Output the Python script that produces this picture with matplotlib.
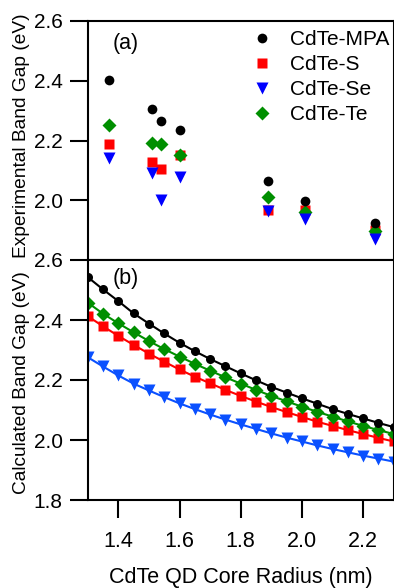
import matplotlib
matplotlib.use('Agg')
import matplotlib.pyplot as plt
from matplotlib.lines import Line2D
from matplotlib import rcParams

rcParams['font.family'] = ['Liberation Sans', 'DejaVu Sans']

# experimental band gaps (panel a)
r_exp = [1.37, 1.51, 1.54, 1.60, 1.89, 2.01, 2.24]
eg_mpa = [2.403, 2.307, 2.264, 2.234, 2.065, 1.998, 1.923]
eg_s = [2.189, 2.127, 2.105, 2.153, 1.967, 1.968, 1.899]
eg_se = [2.140, 2.092, 2.000, 2.079, 1.964, 1.937, 1.870]
eg_te = [2.251, 2.193, 2.189, 2.153, 2.011, 1.962, 1.897]

# calculated band gaps (panel b)
r_calc = [1.30, 1.35, 1.40, 1.45, 1.50, 1.55, 1.60, 1.65, 1.70, 1.75, 1.80,
          1.85, 1.90, 1.95, 2.00, 2.05, 2.10, 2.15, 2.20, 2.25, 2.30]
calc_mpa = [2.543, 2.502, 2.463, 2.422, 2.388, 2.355, 2.324, 2.296, 2.270, 2.246, 2.222,
            2.199, 2.177, 2.158, 2.139, 2.121, 2.103, 2.087, 2.072, 2.057, 2.043]
calc_s = [2.413, 2.379, 2.347, 2.317, 2.288, 2.261, 2.235, 2.211, 2.189, 2.167, 2.147,
          2.128, 2.110, 2.093, 2.077, 2.061, 2.047, 2.033, 2.020, 2.007, 1.995]
calc_se = [2.276, 2.245, 2.215, 2.188, 2.165, 2.143, 2.122, 2.103, 2.085, 2.068, 2.052,
           2.037, 2.022, 2.008, 1.995, 1.982, 1.970, 1.959, 1.948, 1.938, 1.928]
calc_te = [2.458, 2.421, 2.389, 2.359, 2.330, 2.303, 2.278, 2.254, 2.231, 2.209, 2.188,
           2.167, 2.147, 2.129, 2.111, 2.094, 2.078, 2.062, 2.047, 2.033, 2.020]

labels = ['CdTe-MPA', 'CdTe-S', 'CdTe-Se', 'CdTe-Te']
green = '#008f00'
blue_a = '#0000ff'
blue_b = '#0a50ff'
red = '#ff0000'

fig = plt.figure(figsize=(3.94, 5.88), dpi=100)
left, width = 87.7 / 394, 306 / 394
ax1 = fig.add_axes([left, 1 - 260 / 588, width, 239 / 588])
ax2 = fig.add_axes([left, 1 - 500 / 588, width, 240 / 588])

for ax in (ax1, ax2):
    for s in ax.spines.values():
        s.set_linewidth(1.5)
    ax.set_xlim(1.3, 2.3)
    ax.set_ylim(1.8, 2.6)
    ax.tick_params(axis='y', direction='out', length=13, width=1.5,
                   labelsize=15, pad=5)

# panel a
ax1.plot(r_exp, eg_s, 's', color=red, ms=7.5, mec='none', zorder=2)
ax1.plot(r_exp, eg_te, 'D', color=green, ms=7.5, mec='none', zorder=3)
ax1.plot(r_exp, eg_se, 'v', color=blue_a, ms=8.5, mec='none', zorder=4)
ax1.plot(r_exp, eg_mpa, 'o', color='black', ms=7, mec='none', zorder=5)
ax1.set_yticks([2.0, 2.2, 2.4, 2.6])
ax1.set_yticklabels(['2.0', '2.2', '2.4', '2.6'])
ax1.tick_params(axis='x', bottom=False, labelbottom=False)
ax1.set_ylabel('Experimental Band Gap (eV)', fontsize=13.8)
ax1.yaxis.set_label_coords(-0.188, 0.52)
ax1.text(0.082, 0.904, '(a)', transform=ax1.transAxes, fontsize=15.5, va='center')

handles = [
    Line2D([], [], ls='none', marker='o', color='black', ms=7, mec='none'),
    Line2D([], [], ls='none', marker='s', color=red, ms=7.5, mec='none'),
    Line2D([], [], ls='none', marker='v', color=blue_a, ms=8.5, mec='none'),
    Line2D([], [], ls='none', marker='D', color=green, ms=7.5, mec='none'),
]
ax1.legend(handles, labels, loc='upper left', bbox_to_anchor=(0.535, 0.963),
           frameon=False, fontsize=15, handlelength=1.0, handletextpad=0.86,
           labelspacing=0.29, borderpad=0, borderaxespad=0)

# panel b
ax2.plot(r_calc, calc_se, '-v', color=blue_b, lw=1.5, ms=8, mec='none')
ax2.plot(r_calc, calc_s, '-s', color=red, lw=1.5, ms=7, mec='none')
ax2.plot(r_calc, calc_te, '-D', color=green, lw=1.5, ms=7, mec='none')
ax2.plot(r_calc, calc_mpa, '-o', color='black', lw=1.5, ms=6.5, mec='none')
ax2.set_yticks([1.8, 2.0, 2.2, 2.4, 2.6])
ax2.set_yticklabels(['1.8', '2.0', '2.2', '2.4', '2.6'])
ax2.set_xticks([1.4, 1.6, 1.8, 2.0, 2.2])
ax2.set_xticklabels(['1.4', '1.6', '1.8', '2.0', '2.2'])
ax2.tick_params(axis='x', direction='out', length=13, width=1.5,
                labelsize=15.5, pad=9)
ax2.set_ylabel('Calculated Band Gap (eV)', fontsize=13.8)
ax2.yaxis.set_label_coords(-0.188, 0.49)
ax2.set_xlabel('CdTe QD Core Radius (nm)', fontsize=15.5, labelpad=11)
ax2.text(0.082, 0.921, '(b)', transform=ax2.transAxes, fontsize=15.5, va='center')

fig.savefig('out.png', dpi=100)
